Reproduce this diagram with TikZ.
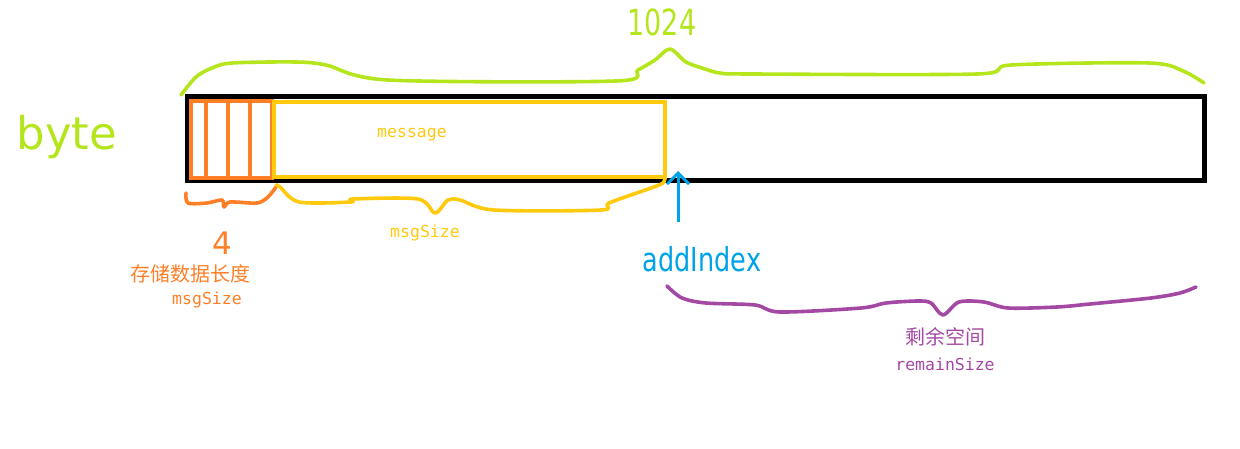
\documentclass[tikz,border=0pt]{standalone}
\usepackage{fontspec}
\setmainfont{DejaVu Sans}
\newfontfamily\cjk{Noto Sans CJK SC}
\newfontfamily\monof{DejaVu Sans Mono}
\usetikzlibrary{arrows.meta}
\definecolor{pgreen}{HTML}{B5E61D}
\definecolor{porange}{HTML}{FF7F27}
\definecolor{pyellow}{HTML}{FFC90E}
\definecolor{pblue}{HTML}{00A2E8}
\definecolor{ppurple}{HTML}{A349A4}
\tikzset{
  box/.style={draw, inner sep=0pt, line join=miter},
  brace/.style={line width=3.6pt, line cap=round, line join=round},
  lbl/.style={inner sep=0pt, anchor=center},
  monolbl/.style={lbl, font=\monof\fontsize{16.5}{16.5}\selectfont},
  cjklbl/.style={lbl, font=\cjk\fontsize{20}{20}\selectfont},
}
\begin{document}
\begin{tikzpicture}[x=1pt,y=-1pt]
\useasboundingbox (0,0) rectangle (1240,449);
% main buffer
\node[box, line width=5pt, minimum width=1017pt, minimum height=84pt] (buffer) at (695.5,139) {};
% header (4 bytes)
\node[box, draw=porange, line width=3.6pt, minimum width=81pt, minimum height=77pt] (header) at (231.5,139.5) {};
\foreach \dx in {17,39,61}
  \draw[porange, line width=3.6pt] ([xshift=\dx pt]header.north west) -- ([xshift=\dx pt]header.south west);
% message
\node[box, draw=pyellow, line width=3.6pt, minimum width=391pt, minimum height=75pt] (msg) at (469.5,139.5) {};
\node[monolbl, text=pyellow] (msgtext) at (412,135) {message};
% labels
\node[lbl, text=pgreen, font=\fontsize{45}{45}\selectfont] (byte) at (67,137) {byte};
\node[lbl, text=pgreen, font=\fontsize{36}{36}\selectfont, xscale=0.75] (total) at (662,22) {1024};
% green brace
\draw[brace, pgreen] plot[smooth, tension=0.5] coordinates {(181,95) (196,77) (212,68) (232,63) (295,62) (326,65) (388,80) (616,81) (638,70) (655,60) (670,49) (686,62) (705,69) (720,73) (751,74) (977,74) (1011,65) (1149,63) (1183,71) (1204,83)};
% orange brace
\draw[brace, porange] plot[smooth, tension=0.5] coordinates {(186,193) (188,203) (207,203) (222,200) (224,207) (230,202) (257,203) (268,197) (276,187)};
\node[lbl, text=porange, font=\fontsize{31}{31}\selectfont] (four) at (222,243) {4};
\node[cjklbl, text=porange] (hdrtext) at (190,274) {存储数据长度};
\node[monolbl, text=porange] (hdrsize) at (207,300) {msgSize};
% yellow brace
\draw[brace, pyellow] plot[smooth, tension=0.5] coordinates {(276,185) (280,187) (299,202) (351,202) (353,199) (418,199) (435,213) (448,200) (460,200) (494,210) (601,210) (609,203) (651,188) (663,183) (665,177)};
\node[monolbl, text=pyellow] (msgsize) at (425,233) {msgSize};
% addIndex arrow
\node[lbl, text=pblue, font=\fontsize{30}{30}\selectfont, xscale=0.85, yscale=1.1] (addidx) at (702,259) {addIndex};
\coordinate (tail) at (678,222);
\coordinate (tip) at (678,171);
\draw[pblue, line width=3pt, -{Straight Barb[length=11pt,width=22pt,line width=3pt]}] (tail) -- (tip);
% purple brace
\draw[brace, ppurple] plot[smooth, tension=0.5] coordinates {(667,286) (682,298) (706,303) (755,305) (780,312) (861,308) (886,303) (918,301) (931,303) (943,315) (959,302) (984,302) (1008,308) (1057,307) (1090,304) (1151,298) (1180,293) (1196,287)};
\node[cjklbl, text=ppurple] (remtext) at (945,337) {剩余空间};
\node[monolbl, text=ppurple] (remsize) at (945,364) {remainSize};
\end{tikzpicture}
\end{document}
